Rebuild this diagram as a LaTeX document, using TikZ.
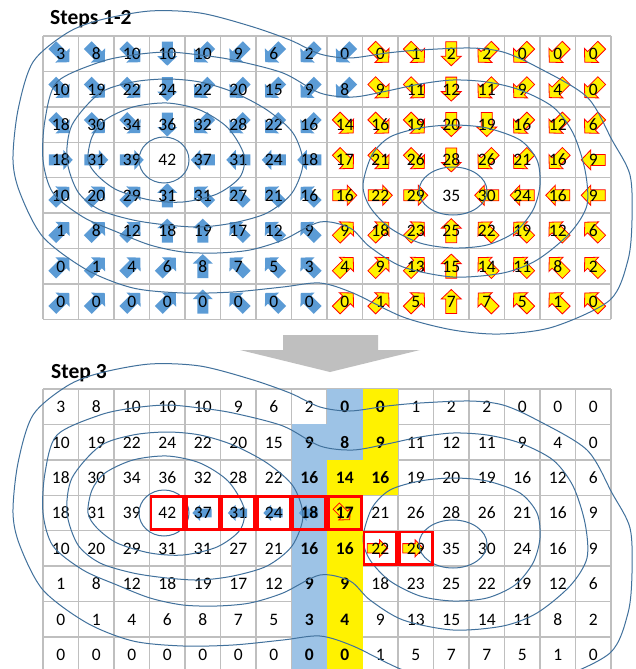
\documentclass[tikz,border=0pt]{standalone}
\usepackage{fontspec}
\setmainfont{Carlito}
\definecolor{gridc}{RGB}{191,191,191}
\definecolor{arrblue}{RGB}{91,155,213}
\definecolor{cellblue}{RGB}{157,195,230}
\definecolor{contourc}{RGB}{65,113,156}
\definecolor{bigarrowc}{RGB}{191,191,191}
\tikzset{
 blarrow/.style={fill=arrblue},
 ylarrow/.style={fill=yellow, draw=red, line width=0.8pt},
 gridline/.style={draw=gridc, line width=1.4pt},
 numtext/.style={font=\fontsize{17.5}{20}\selectfont, anchor=base, inner sep=0pt},
 numbold/.style={font=\fontsize{17.5}{20}\selectfont\bfseries, anchor=base, inner sep=0pt},
 titletext/.style={font=\fontsize{21.5}{24}\selectfont\bfseries, anchor=base west, inner sep=0pt},
 contourline/.style={draw=contourc, line width=1pt},
 redbox/.style={draw=red, line width=2.6pt},
}
\newcommand\cellarrow[5]{%
\begin{scope}[shift={(#1,#2)},rotate=#3,scale=#5]
\path[#4] (-12,-5.5)--(2.5,-5.5)--(2.5,-10)--(12,0)--(2.5,10)--(2.5,5.5)--(-12,5.5)--cycle;
\end{scope}}
\newcommand\contourset{%
\draw[contourline] (164,160) ellipse [x radius=25, y radius=23];
\draw[contourline] plot[smooth cycle] coordinates {(88,160) (92,137) (105,120) (133,107) (167,103) (200,110) (228,128) (244,155) (240,177) (217,194) (183,202) (150,200) (117,190) (97,175)};
\draw[contourline] plot[smooth cycle] coordinates {(67,160) (72,125) (100,93) (133,82) (167,79) (200,82) (233,92) (267,110) (293,133) (303,163) (292,193) (267,213) (233,223) (200,227) (167,225) (133,220) (100,210) (78,192)};
\draw[contourline] plot[smooth cycle] coordinates {(45,120) (57,82) (100,62) (133,55) (167,52) (200,55) (233,60) (283,73) (320,93) (353,97) (387,91) (420,84) (453,80) (487,82) (520,90) (553,107) (573,133) (585,170) (587,205) (570,233) (537,260) (503,273) (453,277) (403,267) (370,247) (350,228) (320,222) (283,240) (250,250) (217,253) (183,252) (150,245) (117,232) (83,217) (53,193) (43,160)};
\draw[contourline] plot[smooth cycle] coordinates {(33,62) (67,33) (100,20) (150,11) (200,13) (250,26) (290,40) (320,54) (350,58) (387,53) (420,50) (470,48) (503,52) (537,67) (587,97) (612,140) (630,175) (632,220) (628,260) (610,300) (553,327) (500,334) (453,330) (403,317) (353,293) (320,283) (283,287) (233,292) (183,293) (133,288) (87,270) (43,237) (20,193) (13,160) (18,110)};
\draw[contourline] (453,191) ellipse [x radius=34, y radius=24];
\draw[contourline] plot[smooth cycle] coordinates {(363,185) (372,155) (390,137) (420,128) (453,125) (487,128) (520,140) (537,160) (540,185) (533,210) (515,232) (487,245) (453,248) (420,243) (390,228) (370,207)};
}
\def\gridata{%
{3/-45/b,8/-45/b,10/-45/b,10/-90/b,10/-135/b,9/-135/b,6/-135/b,2/-135/b,0/-135/b,0/-45/y,1/-45/y,2/-90/y,2/-135/y,0/-135/y,0/-135/y,0/-135/y},%
{10/-45/b,19/-45/b,22/-45/b,24/-90/b,22/-135/b,20/-135/b,15/-135/b,9/-135/b,8/-135/b,9/-45/y,11/-45/y,12/-90/y,11/-135/y,9/-135/y,4/-135/y,0/-135/y},%
{18/-45/b,30/-45/b,34/-45/b,36/-90/b,32/-135/b,28/-135/b,22/-135/b,16/-135/b,14/-45/y,16/-45/y,19/-45/y,20/-90/y,19/-90/y,16/-135/y,12/-135/y,6/-135/y},%
{18/0/b,31/0/b,39/0/b,42/0/n,37/180/b,31/180/b,24/180/b,18/180/b,17/-45/y,21/-45/y,26/-45/y,28/-90/y,26/-135/y,21/-135/y,16/-135/y,9/180/y},%
{10/45/b,20/45/b,29/45/b,31/90/b,31/135/b,27/135/b,21/135/b,16/135/b,16/0/y,22/0/y,29/0/y,35/0/n,30/180/y,24/180/y,16/180/y,9/180/y},%
{1/45/b,8/45/b,12/45/b,18/90/b,19/90/b,17/135/b,12/135/b,9/135/b,9/45/y,18/45/y,23/45/y,25/90/y,22/135/y,19/135/y,12/135/y,6/135/y},%
{0/45/b,1/45/b,4/45/b,6/45/b,8/90/b,7/135/b,5/135/b,3/135/b,4/45/y,9/45/y,13/45/y,15/90/y,14/135/y,11/135/y,8/135/y,2/135/y},%
{0/45/b,0/45/b,0/45/b,0/45/b,0/90/b,0/135/b,0/135/b,0/135/b,0/45/y,1/45/y,5/45/y,7/90/y,7/135/y,5/135/y,1/135/y,0/135/y}}
\begin{document}
\begin{tikzpicture}[x=1pt,y=-1pt]
\useasboundingbox (0,0) rectangle (636,669);
\fill[white] (0,0) rectangle (636,669);
% titles
\node[titletext] (t1) at (50,25) {Steps 1-2};
\node[titletext] (t2) at (51,378) {Step 3};
% ---------- top grid ----------
\foreach \i in {0,...,8} \draw[gridline] (43,{36+35.4*\i}) -- (611,{36+35.4*\i});
\foreach \j in {0,...,16} \draw[gridline] ({43+35.5*\j},36) -- ({43+35.5*\j},319.2);
\foreach \row [count=\r from 0] in \gridata {
  \foreach \v/\a/\k [count=\c from 0] in \row {
    \pgfmathsetmacro\cx{43+35.5*(\c+0.5)}
    \pgfmathsetmacro\cy{36+35.4*(\r+0.5)}
    \if\k b\cellarrow{\cx}{\cy}{\a}{blarrow}{1}\fi
    \if\k y\cellarrow{\cx}{\cy}{\a}{ylarrow}{1}\fi
    \node[numtext] (n-\r-\c) at (\cx,\cy+6) {\v};
  }
}
\contourset
% ---------- big arrow ----------
\fill[bigarrowc] (283,335) -- (378,335) -- (378,350) -- (420,350) -- (330,372) -- (240,350) -- (283,350) -- cycle;
% ---------- step 3 grid ----------
\foreach \i in {0,...,8} \draw[gridline] (43,{389+35.4*\i}) -- (611,{389+35.4*\i});
\foreach \j in {0,...,16} \draw[gridline] ({43+35.5*\j},389) -- ({43+35.5*\j},672.2);
\fill[cellblue] (291.5,424.4) rectangle (327,672.2);
\fill[cellblue] (327,389) rectangle (362.5,459.8);
\fill[yellow] (327,459.8) rectangle (362.5,672.2);
\fill[yellow] (362.5,389) rectangle (398,495.2);
% arrows in step 3
\foreach \c in {4,5,6,7} \cellarrow{43+35.5*\c+17}{389+35.4*3.5}{180}{blarrow}{0.8};
\cellarrow{43+35.5*8+16}{389+35.4*3.5}{-45}{ylarrow}{0.8}
\cellarrow{43+35.5*9+15}{389+35.4*4.5}{0}{ylarrow}{0.85}
\cellarrow{43+35.5*10+15}{389+35.4*4.5}{0}{ylarrow}{0.85}
\foreach \row [count=\r from 0] in \gridata {
  \foreach \v/\a/\k [count=\c from 0] in \row {
    \pgfmathsetmacro\cx{43+35.5*(\c+0.5)}
    \pgfmathsetmacro\cy{389+35.4*(\r+0.5)}
    \pgfmathtruncatemacro\isb{((\c==7)&&(\r>=1))||(\c==8)||((\c==9)&&(\r<=2))}
    \ifnum\isb=1
      \node[numbold] (m-\r-\c) at (\cx,\cy+6) {\v};
    \else
      \node[numtext] (m-\r-\c) at (\cx,\cy+6) {\v};
    \fi
  }
}
\begin{scope}[shift={(0,353)}]
\contourset
\end{scope}
% red boxes
\foreach \c in {3,...,8} \draw[redbox] ({43+35.5*\c+1.3},{389+35.4*3+1.3}) rectangle ({43+35.5*(\c+1)-1.3},{389+35.4*4-1.3});
\foreach \c in {9,10} \draw[redbox] ({43+35.5*\c+1.3},{389+35.4*4+1.3}) rectangle ({43+35.5*(\c+1)-1.3},{389+35.4*5-1.3});
\end{tikzpicture}
\end{document}
